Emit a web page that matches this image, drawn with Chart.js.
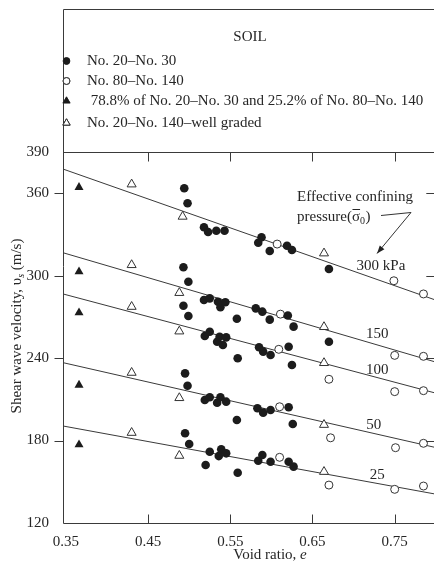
<!DOCTYPE html>
<html>
<head>
<meta charset="utf-8">
<script src="https://cdn.jsdelivr.net/npm/chart.js@4.4.1/dist/chart.umd.min.js"></script>
<style>
  html, body { margin: 0; padding: 0; background: #fff; overflow: hidden; width: 434px; height: 561px; }
  canvas { display: block; }
</style>
</head>
<body>
<canvas id="shear" width="442" height="561"></canvas>
<script>
// ---- data ----
// No. 20-No. 30 (filled circles)
var coarseE = [0.494, 0.498, 0.518, 0.523, 0.533, 0.543, 0.588, 0.584, 0.598, 0.619, 0.625, 0.670,
               0.493, 0.499, 0.518, 0.525, 0.535, 0.538, 0.544, 0.558, 0.581, 0.589, 0.598, 0.620, 0.627, 0.670,
               0.493, 0.499, 0.519, 0.525, 0.534, 0.537, 0.541, 0.545, 0.559, 0.585, 0.590, 0.599, 0.621, 0.625,
               0.495, 0.498, 0.519, 0.525, 0.534, 0.538, 0.545, 0.558, 0.583, 0.590, 0.599, 0.621, 0.626,
               0.495, 0.500, 0.520, 0.525, 0.536, 0.539, 0.545, 0.559, 0.584, 0.589, 0.599, 0.621, 0.627];
var coarseV = [363.6, 352.7, 335.2, 331.8, 332.7, 332.7, 327.9, 324.0, 318.0, 321.8, 318.7, 304.8,
               306.1, 295.6, 282.3, 283.5, 281.0, 277.0, 280.6, 268.7, 276.2, 273.8, 268.0, 271.0, 262.9, 251.9,
               278.1, 270.6, 256.1, 259.2, 251.9, 255.6, 249.5, 255.1, 239.9, 247.9, 244.7, 242.3, 248.3, 235.0,
               228.9, 219.9, 209.5, 211.5, 207.5, 211.5, 208.3, 195.0, 203.5, 200.3, 202.2, 204.2, 192.0,
               185.3, 177.5, 162.2, 171.9, 168.7, 173.6, 170.7, 156.6, 165.3, 169.5, 164.6, 164.6, 161.0];

// No. 80-No. 140 (open circles)
var fineE = [0.607, 0.749, 0.785, 0.611, 0.750, 0.785, 0.609, 0.670, 0.750, 0.785,
             0.610, 0.672, 0.751, 0.785, 0.610, 0.670, 0.750, 0.785];
var fineV = [323.0, 296.3, 286.7, 272.0, 242.0, 241.3, 246.4, 224.6, 215.6, 216.3,
             204.6, 182.0, 174.8, 178.0, 167.8, 147.6, 144.5, 146.9];

// 78.8% / 25.2% mix (filled triangles)
var mixE = [0.366, 0.366, 0.366, 0.366, 0.366];
var mixV = [364.3, 302.9, 273.0, 220.4, 177.0];

// No. 20-No. 140 well graded (open triangles)
var gradedE = [0.430, 0.430, 0.430, 0.430, 0.430, 0.492, 0.488, 0.488, 0.488, 0.488,
               0.664, 0.664, 0.664, 0.664, 0.664];
var gradedV = [366.5, 307.8, 277.4, 229.4, 185.7, 343.0, 287.5, 259.5, 211.0, 169.0,
               316.3, 262.7, 236.5, 191.5, 157.3];

// fitted lines, one per confining pressure (values at both ends of the e range)
var pressures = ['300 kPa', '150', '100', '50', '25'];
var lineEnds = [0.3465, 0.80];
var lineStartV = [377.6, 316.7, 286.7, 236.7, 190.6];
var lineEndV = [282.2, 237.1, 214.5, 174.9, 141.0];

var xTicks = [0.35, 0.45, 0.55, 0.65, 0.75];
var yTicks = [120, 180, 240, 300, 360, 390];

var legendLabels = ['No. 20\u2013No. 30', 'No. 80\u2013No. 140',
                    ' 78.8% of No. 20\u2013No. 30 and 25.2% of No. 80\u2013No. 140',
                    'No. 20\u2013No. 140\u2013well graded'];

// ---- helpers ----
var serif = "'Liberation Serif', 'DejaVu Serif', serif";
var ink = '#262626';

function pts(xs, ys) {
    return xs.map(function(x, i) { return {x: x, y: ys[i]}; });
}

var markStyles = [
    {pointStyle: 'circle', radius: 4.3, backgroundColor: '#1c1c1c', borderColor: '#1c1c1c', borderWidth: 0},
    {pointStyle: 'circle', radius: 4, backgroundColor: '#fff', borderColor: '#333', borderWidth: 1},
    {pointStyle: 'triangle', radius: 5.2, backgroundColor: '#1c1c1c', borderColor: '#1c1c1c', borderWidth: 0},
    {pointStyle: 'triangle', radius: 5.2, backgroundColor: '#fff', borderColor: '#333', borderWidth: 1}
];

var datasets = [];
[[coarseE, coarseV], [fineE, fineV], [mixE, mixV], [gradedE, gradedV]].forEach(function(s, i) {
    var st = markStyles[i];
    datasets.push({
        label: legendLabels[i],
        data: pts(s[0], s[1]),
        showLine: false,
        pointStyle: st.pointStyle,
        pointRadius: st.radius,
        pointBackgroundColor: st.backgroundColor,
        pointBorderColor: st.borderColor,
        pointBorderWidth: st.borderWidth
    });
});
pressures.forEach(function(p, i) {
    datasets.push({
        label: p,
        data: pts(lineEnds, [lineStartV[i], lineEndV[i]]),
        showLine: true,
        borderColor: '#3a3a3a',
        borderWidth: 1,
        pointRadius: 0
    });
});

// frame, inward ticks, titles, legend and annotations
var decor = {
    id: 'decor',
    afterDraw: function(chart) {
        var ctx = chart.ctx, a = chart.chartArea;
        var xs = chart.scales.x, ys = chart.scales.y;
        ctx.save();
        ctx.strokeStyle = '#3a3a3a';
        ctx.lineWidth = 1;
        ctx.beginPath();
        var L = a.left + 0.5, T = a.top + 0.5, B = a.bottom + 0.5, R = a.right - 0.5;
        ctx.moveTo(L, B); ctx.lineTo(L, 9.5); ctx.lineTo(chart.width, 9.5);
        ctx.moveTo(L, T); ctx.lineTo(R, T);
        ctx.moveTo(L, B); ctx.lineTo(R, B);
        ctx.moveTo(R, T); ctx.lineTo(R, B);
        xTicks.forEach(function(v) {
            if (v - xs.min < 0.01) return;
            var px = Math.round(xs.getPixelForValue(v)) + 0.5;
            ctx.moveTo(px, T); ctx.lineTo(px, T + 9);
            ctx.moveTo(px, B); ctx.lineTo(px, B - 9);
        });
        yTicks.forEach(function(v) {
            if (v === ys.min || v === ys.max) return;
            var py = Math.round(ys.getPixelForValue(v)) + 0.5;
            ctx.moveTo(L - 9, py); ctx.lineTo(L, py);
            ctx.moveTo(R - 9, py); ctx.lineTo(R, py);
        });
        ctx.stroke();

        ctx.fillStyle = ink;
        ctx.font = '15px ' + serif;
        ctx.textBaseline = 'middle';

        // legend block
        ctx.textAlign = 'center';
        ctx.fillText('SOIL', 250, 37);
        ctx.textAlign = 'left';
        var rowY = [61, 81, 101, 123];
        legendLabels.forEach(function(t, i) {
            var st = markStyles[i];
            Chart.helpers.drawPoint(ctx, {
                pointStyle: st.pointStyle, radius: st.pointStyle === 'circle' ? 3.4 : 4.2,
                borderWidth: st.borderWidth || 0.001, rotation: 0
            }, 66.5, rowY[i]);
            ctx.fillStyle = st.backgroundColor;
            ctx.strokeStyle = st.borderColor;
            ctx.lineWidth = st.borderWidth;
            ctx.fill();
            if (st.borderWidth) ctx.stroke();
            ctx.fillStyle = ink;
            ctx.fillText(t, 87, rowY[i]);
        });

        // y title with subscript
        ctx.save();
        ctx.translate(17, 326);
        ctx.rotate(-Math.PI / 2);
        var t1 = 'Shear wave velocity, \u03c5', t2 = 's', t3 = ' (m/s)';
        ctx.font = '15px ' + serif;
        var w1 = ctx.measureText(t1).width, w3 = ctx.measureText(t3).width;
        ctx.font = 'italic 10px ' + serif;
        var w2 = ctx.measureText(t2).width;
        var x0 = -(w1 + w2 + w3) / 2;
        ctx.font = '15px ' + serif;
        ctx.fillText(t1, x0, 0);
        ctx.font = 'italic 10px ' + serif;
        ctx.fillText(t2, x0 + w1, 4);
        ctx.font = '15px ' + serif;
        ctx.fillText(t3, x0 + w1 + w2, 0);
        ctx.restore();

        // x title
        ctx.font = '15px ' + serif;
        var xt = 'Void ratio, ', wx = ctx.measureText(xt).width;
        ctx.font = 'italic 15px ' + serif;
        var we = ctx.measureText('e').width;
        var xStart = 270 - (wx + we) / 2;
        ctx.font = '15px ' + serif;
        ctx.fillText(xt, xStart, 555);
        ctx.font = 'italic 15px ' + serif;
        ctx.fillText('e', xStart + wx, 555);

        // pressure labels near the right end of each line
        ctx.font = '15px ' + serif;
        ctx.textAlign = 'center';
        var labelE = [0.7333, 0.7288, 0.7288, 0.7246, 0.7288];
        var labelV = [307, 257.5, 231.3, 191.3, 155];
        pressures.forEach(function(p, i) {
            ctx.fillText(p, xs.getPixelForValue(labelE[i]), ys.getPixelForValue(labelV[i]));
        });

        // "Effective confining pressure" callout
        ctx.textAlign = 'left';
        ctx.fillText('Effective confining', 297, 197);
        var p1 = 'pressure(';
        ctx.fillText(p1, 297, 217);
        var wp = ctx.measureText(p1).width;
        ctx.fillText('\u03c3', 297 + wp, 217);
        var ws = ctx.measureText('\u03c3').width;
        ctx.beginPath();
        ctx.moveTo(297 + wp + 0.5, 209.5); ctx.lineTo(297 + wp + ws, 209.5);
        ctx.strokeStyle = ink; ctx.lineWidth = 1; ctx.stroke();
        ctx.font = '10px ' + serif;
        ctx.fillText('0', 297 + wp + ws, 221);
        var w0 = ctx.measureText('0').width;
        ctx.font = '15px ' + serif;
        ctx.fillText(')', 297 + wp + ws + w0 + 0.5, 217);

        var ax = 411, ay = 212.5, tx = 377, ty = 253.5;
        ctx.beginPath();
        ctx.moveTo(381, 215.5); ctx.lineTo(ax, ay); ctx.lineTo(tx, ty);
        ctx.strokeStyle = '#333'; ctx.stroke();
        var ang = Math.atan2(ty - ay, tx - ax);
        ctx.beginPath();
        ctx.moveTo(tx, ty);
        ctx.lineTo(tx - 8 * Math.cos(ang) + 3 * Math.sin(ang), ty - 8 * Math.sin(ang) - 3 * Math.cos(ang));
        ctx.lineTo(tx - 8 * Math.cos(ang) - 3 * Math.sin(ang), ty - 8 * Math.sin(ang) + 3 * Math.cos(ang));
        ctx.closePath();
        ctx.fillStyle = '#222'; ctx.fill();
        ctx.restore();
    }
};

new Chart(document.getElementById('shear').getContext('2d'), {
    type: 'scatter',
    data: {datasets: datasets},
    plugins: [decor],
    options: {
        responsive: false,
        animation: false,
        devicePixelRatio: 1,
        layout: {padding: {top: 152, right: 2, left: 0, bottom: 0}},
        plugins: {legend: {display: false}, tooltip: {enabled: false}},
        scales: {
            x: {
                type: 'linear', min: 0.3465, max: 0.80,
                afterBuildTicks: function(s) { s.ticks = xTicks.map(function(v) { return {value: v}; }); },
                afterFit: function(s) { s.height = 38; },
                grid: {display: false},
                border: {display: false},
                ticks: {
                    padding: 2, color: ink, font: {family: serif, size: 15},
                    maxRotation: 0, autoSkip: false,
                    callback: function(v) { return v.toFixed(2); }
                }
            },
            y: {
                type: 'linear', min: 120, max: 390,
                afterBuildTicks: function(s) { s.ticks = yTicks.map(function(v) { return {value: v}; }); },
                afterFit: function(s) { s.width = 63; },
                grid: {display: false},
                border: {display: false},
                ticks: {padding: 6, color: ink, font: {family: serif, size: 15}, autoSkip: false}
            }
        }
    }
});
</script>
</body>
</html>
